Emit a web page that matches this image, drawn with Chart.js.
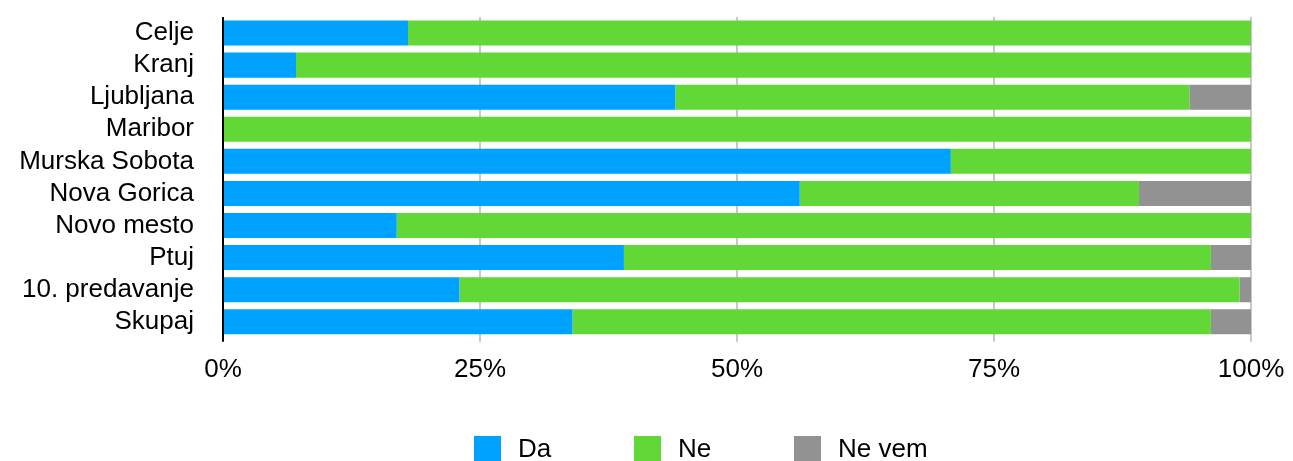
<!DOCTYPE html>
<html>
<head>
<meta charset="utf-8">
<script src="https://cdn.jsdelivr.net/npm/chart.js@4"></script>
<style>
  html, body { margin: 0; padding: 0; background: #fff; }
  #wrap { width: 1293px; height: 461px; position: relative; overflow: hidden; }
  #legenda {
    position: absolute; left: 474px; top: 434px;
    font-family: 'Liberation Sans', Arial, Helvetica, sans-serif;
    font-size: 26px; color: #000; white-space: nowrap;
  }
  #legenda .postavka { display: inline-block; width: 160px; height: 27px; }
  #legenda .kvadrat {
    display: inline-block; width: 27px; height: 25px;
    vertical-align: top; margin-top: 2px; margin-right: 17px;
  }
  #legenda .besedilo { display: inline-block; vertical-align: top; line-height: 29px; }
</style>
</head>
<body>
<div id="wrap">
  <canvas id="graf"></canvas>
  <div id="legenda"></div>
</div>
<script>
const kategorije = ['Celje', 'Kranj', 'Ljubljana', 'Maribor', 'Murska Sobota',
    'Nova Gorica', 'Novo mesto', 'Ptuj', '10. predavanje', 'Skupaj'];

// deleži v odstotkih
const da    = [18.0, 7.1, 44.0, 0, 70.8, 56.1, 16.9, 39.0, 23.0, 34.0];
const ne    = [82.0, 92.9, 50.0, 100, 29.2, 33.0, 83.1, 57.1, 75.9, 62.1];
const neVem = [0, 0, 6.0, 0, 0, 10.9, 0, 3.9, 1.1, 3.9];

const xTicks = [0, 25, 50, 75, 100];

const pisava = "'Liberation Sans', Arial, Helvetica, sans-serif";

const graf = new Chart(document.getElementById('graf'), {
    type: 'bar',
    data: {
        labels: kategorije,
        datasets: [
            { label: 'Da', data: da, backgroundColor: '#00a2ff' },
            { label: 'Ne', data: ne, backgroundColor: '#61d836' },
            { label: 'Ne vem', data: neVem, backgroundColor: '#929292' }
        ]
    },
    options: {
        indexAxis: 'y',
        responsive: true,
        maintainAspectRatio: false,
        animation: false,
        layout: { padding: { top: 17, right: 42, left: 0, bottom: 64 } },
        datasets: {
            bar: { categoryPercentage: 1, barPercentage: 0.78, borderWidth: 0 }
        },
        plugins: {
            tooltip: { enabled: false },
            legend: { display: false } // legenda je spodaj v HTML
        },
        scales: {
            x: {
                stacked: true,
                min: 0,
                max: 100,
                afterBuildTicks: (axis) => { axis.ticks = xTicks.map(v => ({ value: v })); },
                afterFit: (s) => { s.paddingLeft = 0; s.paddingRight = 0; },
                ticks: {
                    callback: (v) => v + '%',
                    color: '#000',
                    padding: 12,
                    font: { family: pisava, size: 26 }
                },
                grid: {
                    // črta pri 0 % je os (črna)
                    color: (c) => c.tick && c.tick.value === 0 ? '#000' : '#c8c8c8',
                    lineWidth: 2,
                    drawTicks: true,
                    tickLength: 4
                },
                border: { display: false }
            },
            y: {
                stacked: true,
                afterFit: (s) => { s.width = 223; s.paddingTop = 0; s.paddingBottom = 0; },
                ticks: {
                    autoSkip: false,
                    color: '#000',
                    padding: 29,
                    font: { family: pisava, size: 26 }
                },
                grid: { display: false, drawTicks: false },
                border: { display: false }
            }
        }
    }
});

// HTML legenda iz podatkov grafa
const legenda = document.getElementById('legenda');
graf.data.datasets.forEach(ds => {
    const el = document.createElement('span');
    el.className = 'postavka';
    el.innerHTML = '<span class="kvadrat" style="background:' + ds.backgroundColor +
        '"></span><span class="besedilo">' + ds.label + '</span>';
    legenda.appendChild(el);
});
</script>
</body>
</html>
